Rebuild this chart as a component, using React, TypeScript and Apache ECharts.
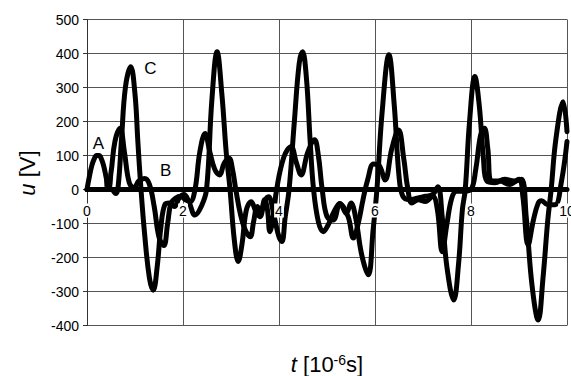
import React, { useEffect, useRef } from 'react';
import * as echarts from 'echarts';

// Curve A: injected pulse, then zero
const tA = [0, 0.05, 0.1, 0.15, 0.2, 0.25, 0.3, 0.35, 0.4, 0.45, 10];
const uA = [0, 38, 70, 90, 100, 100, 90, 68, 35, 0, 0];

// Curve B
const tB = [0, 0.42, 0.5, 0.58, 0.69, 0.78, 0.88, 0.98, 1.08, 1.2, 1.3, 1.4, 1.5, 1.6, 1.68, 1.75, 1.85, 1.95, 2.05, 2.15,
  2.25, 2.35, 2.46, 2.56, 2.66, 2.76, 2.86, 2.96, 3.03, 3.1, 3.2, 3.3, 3.4, 3.47, 3.55, 3.62, 3.7, 3.76, 3.81, 3.88,
  3.95, 4.1, 4.25, 4.36, 4.46, 4.6, 4.74, 4.82, 4.9, 5.0, 5.13, 5.27, 5.44, 5.55, 5.65, 5.75, 5.85, 5.97, 6.08, 6.21,
  6.35, 6.49, 6.6, 6.68, 6.77, 6.9, 7.05, 7.2, 7.3, 7.4, 7.5, 7.6, 7.7, 7.85, 8.0, 8.1, 8.2, 8.28, 8.35, 8.43,
  8.6, 8.8, 9.0, 9.08, 9.19, 9.3, 9.4, 9.47, 9.6, 9.75, 9.88, 10];
const uB = [0, 0, 50, 140, 180, 110, 20, 5, 25, 32, 15, -50, -140, -165, -100, -40, -25, -20, -30, -35,
  0, 110, 165, 110, 60, 43, 78, 92, 60, 0, -75, -120, -139, -95, -50, -65, -30, -60, -124, -80,
  0, 95, 126, 80, 43, 110, 146, 100, 0, -80, -90, -41, -80, -143, -100, -30, 30, 75, 72, 28,
  120, 175, 90, 5, -40, -30, -35, -20, -60, -183, -100, -25, -5, -5, 0, 60, 160, 180, 120, 25,
  25, 15, 30, -20, -163, -90, -40, -33, -45, -45, 20, 141];

// Curve C
const tC = [0, 0.5, 0.6, 0.65, 0.72, 0.8, 0.91, 1.0, 1.06, 1.12, 1.2, 1.3, 1.38, 1.46, 1.54, 1.62, 1.72, 1.82, 1.92, 2.02,
  2.12, 2.25, 2.38, 2.49, 2.6, 2.71, 2.81, 2.9, 2.98, 3.07, 3.15, 3.23, 3.32, 3.42, 3.52, 3.6, 3.7, 3.78, 3.9, 4.0,
  4.06, 4.13, 4.21, 4.32, 4.42, 4.49, 4.57, 4.65, 4.72, 4.82, 4.92, 5.02, 5.13, 5.27, 5.4, 5.5, 5.6, 5.72, 5.86, 5.96,
  6.04, 6.15, 6.29, 6.4, 6.5, 6.58, 6.72, 6.9, 7.05, 7.2, 7.31, 7.4, 7.5, 7.64, 7.74, 7.82, 7.88, 7.97, 8.08, 8.17,
  8.26, 8.33, 8.5, 8.7, 8.9, 9.05, 9.15, 9.27, 9.4, 9.5, 9.6, 9.67, 9.77, 9.92, 10];
const uC = [0, 0, -12, 10, 150, 300, 361, 280, 140, 10, -130, -260, -296, -230, -110, -45, -40, -50, -25, -15,
  -35, -75, -50, 0, 260, 405, 280, 110, 0, -150, -212, -160, -60, -36, -65, -80, -35, -21, -80, -140,
  -153, -80, 0, 200, 370, 405, 330, 140, 0, -95, -124, -105, -70, -41, -70, -40, -85, -190, -251, -120,
  0, 230, 396, 250, 40, -20, -30, -25, -20, -15, 8, -80, -230, -325, -220, -60, 0, 200, 332, 250,
  90, 25, 20, 30, 25, 30, -80, -280, -384, -260, -90, 0, 150, 258, 170];

// Axis ranges
const U_MIN = -400;
const U_MAX = 500;

// Curve name labels and their positions in data units
const curveNames = ['A', 'B', 'C'];
const nameT = [0.24, 1.64, 1.32];
const nameU = [135, 57, 357];

const FONT = "'Liberation Sans', Arial, Helvetica, sans-serif";

export default function App() {
  const ref = useRef<HTMLDivElement>(null);
  useEffect(() => {
    if (!ref.current) return;
    const chart = echarts.init(ref.current, null, { renderer: 'svg' });
    const pair = (t: number[], u: number[]) => t.map((v, i) => [v, u[i]]);
    const ls = { color: '#000', width: 5, cap: 'round', join: 'round' };
    const H = 376, TOP = 19.5, BOTTOM = 50.5;
    const plotH = H - TOP - BOTTOM;
    const zeroOffset = -plotH * (0 - U_MIN) / (U_MAX - U_MIN);
    chart.setOption({
      animation: false,
      backgroundColor: '#fff',
      textStyle: { fontFamily: FONT },
      grid: { left: 87, top: TOP, right: 4, bottom: BOTTOM, containLabel: false, outerBoundsMode: 'none' },
      xAxis: [
        {
          type: 'value', min: 0, max: 10, interval: 2, position: 'bottom',
          axisLine: { show: false, onZero: false }, axisTick: { show: false }, axisLabel: { show: false },
          splitLine: { show: true, lineStyle: { color: '#555', width: 1 } },
        },
        {
          type: 'value', min: 0, max: 10, interval: 2, position: 'bottom', z: 10, offset: zeroOffset,
          axisLine: { show: false, onZero: false },
          axisTick: { show: false },
          splitLine: { show: false },
          axisLabel: {
            show: true, margin: 14, fontSize: 14, color: '#000', fontFamily: FONT,
            backgroundColor: '#fff', padding: [0, 1],
          },
        },
      ],
      yAxis: {
        type: 'value', min: U_MIN, max: U_MAX, interval: 100,
        axisLine: { show: true, onZero: false, lineStyle: { color: '#333', width: 1 } },
        axisTick: { show: true, length: 4, lineStyle: { color: '#333' } },
        axisLabel: { fontSize: 14, color: '#000', margin: 8, fontFamily: FONT },
        splitLine: { show: true, lineStyle: { color: '#555', width: 1 } },
      },
      graphic: [
        {
          type: 'text', x: 327, y: 364, z: 20,
          style: {
            text: '{i|t} [10{s|-6}s]', align: 'center', verticalAlign: 'middle',
            fontSize: 22, fontFamily: FONT, fill: '#000',
            rich: {
              i: { fontStyle: 'italic', fontSize: 22, fontFamily: FONT },
              s: { fontSize: 14, fontFamily: FONT, verticalAlign: 'top', padding: [0, 0, 9, 0] },
            },
          },
        },
        {
          type: 'text', x: 27, y: 173, rotation: Math.PI / 2, z: 20,
          style: {
            text: '{i|u} [V]', align: 'center', verticalAlign: 'middle',
            fontSize: 22, fontFamily: FONT, fill: '#000',
            rich: { i: { fontStyle: 'italic', fontSize: 22, fontFamily: FONT } },
          },
        },
      ],
      series: [
        {
          name: 'A', type: 'line', xAxisIndex: 0, data: pair(tA, uA), smooth: 0.4, showSymbol: false, symbol: 'none',
          lineStyle: ls, z: 3,
        },
        {
          name: 'B', type: 'line', xAxisIndex: 0, data: pair(tB, uB), smooth: 0.4, showSymbol: false, symbol: 'none',
          lineStyle: ls, z: 3,
        },
        {
          name: 'C', type: 'line', xAxisIndex: 0, data: pair(tC, uC), smooth: 0.4, showSymbol: false, symbol: 'none',
          lineStyle: ls, z: 3,
          markPoint: {
            symbol: 'circle', symbolSize: 0, silent: true,
            label: { show: true, position: 'inside', color: '#000', fontSize: 17, fontFamily: FONT, formatter: '{b}' },
            data: curveNames.map((n, i) => ({ name: n, coord: [nameT[i], nameU[i]] })),
          },
        },
      ],
    });
    return () => chart.dispose();
  }, []);
  return <div ref={ref} style={{ position: 'fixed', left: 0, top: 0, width: 571, height: 376 }} />;
}
